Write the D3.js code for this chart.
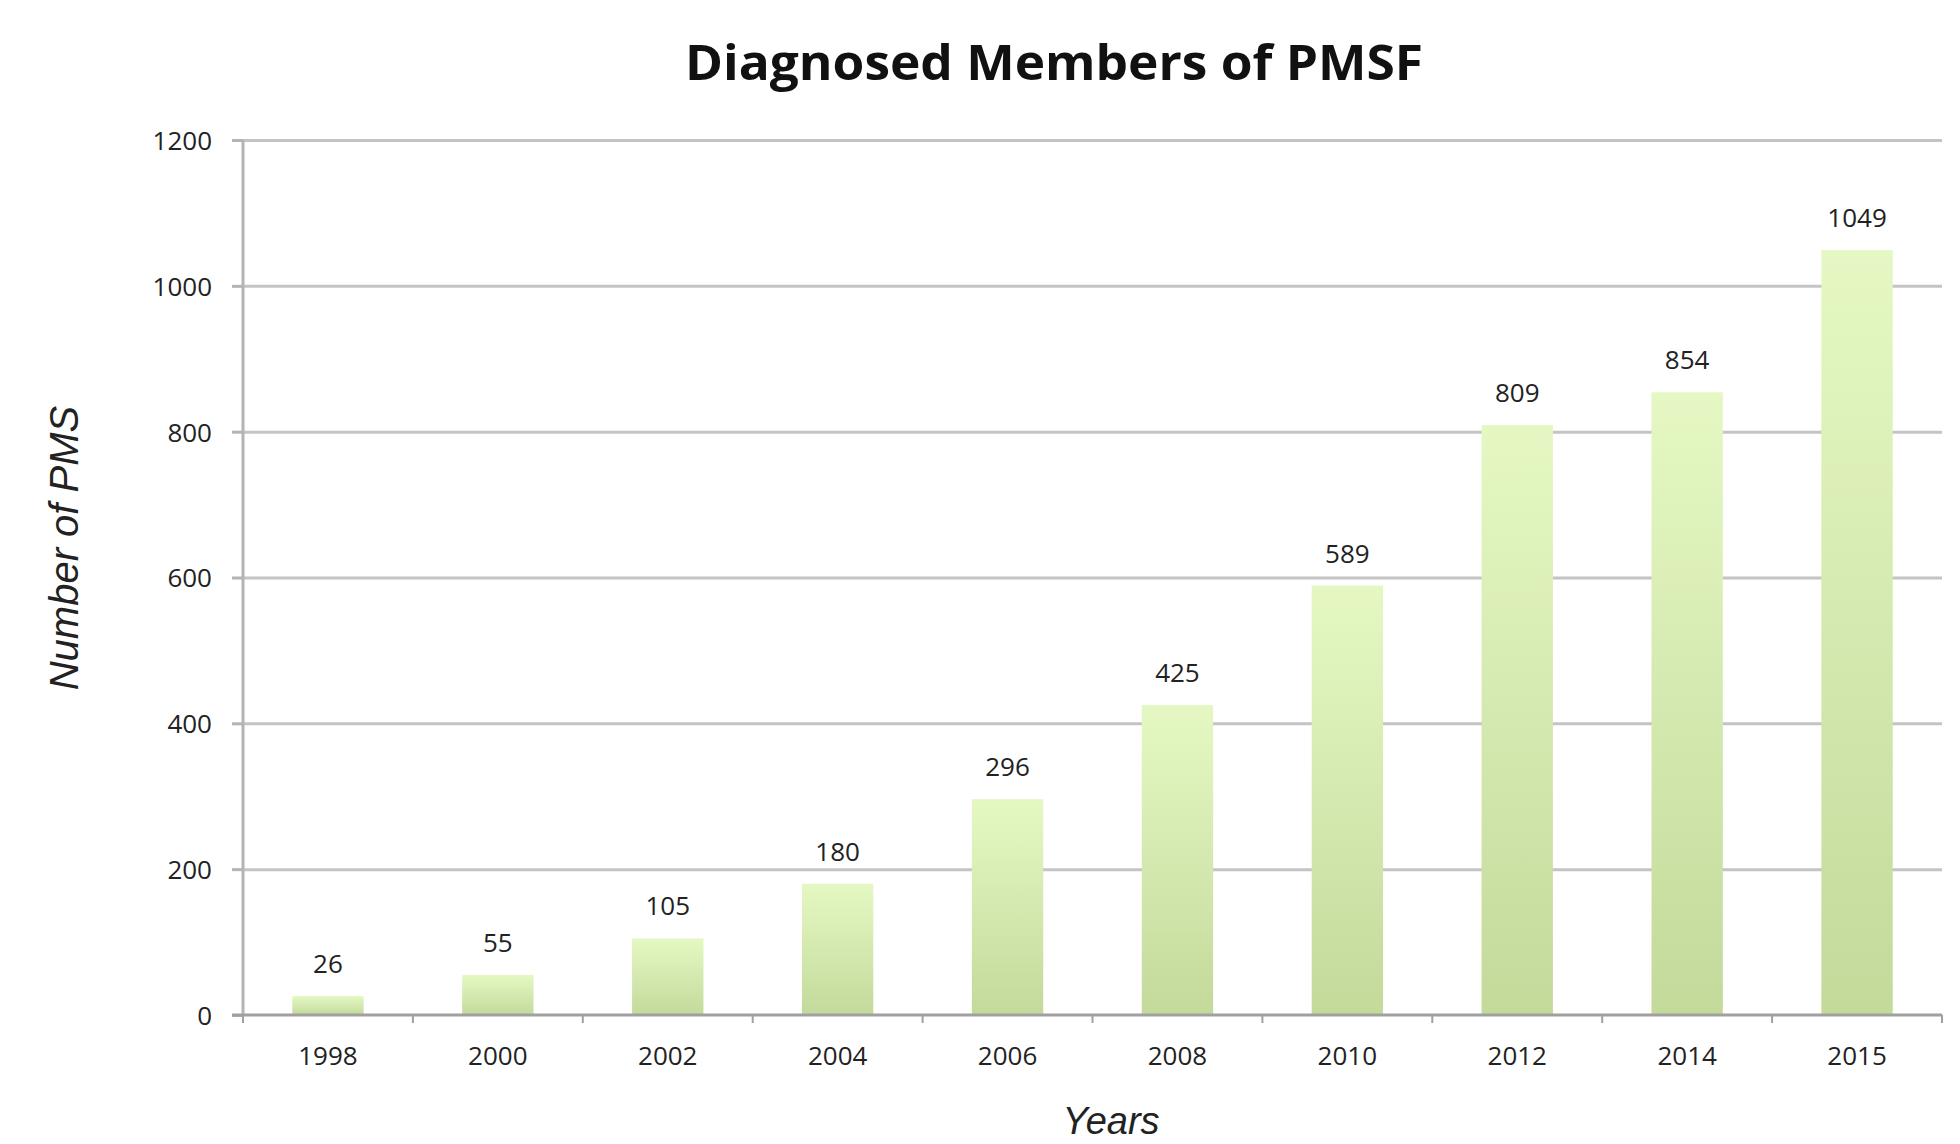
<!DOCTYPE html>
<html>
<head>
<meta charset="utf-8">
<script src="https://cdn.jsdelivr.net/npm/d3@7"></script>
<style>
  body { margin: 0; background: #fff; }
  .tick text { font-family: "Open Sans", sans-serif; fill: #222; }
  .axisTitle { font-family: "Liberation Sans", Arial, sans-serif; font-style: italic; fill: #222; }
</style>
</head>
<body>
<div id="chart"></div>
<script>
// data
var years = ["1998", "2000", "2002", "2004", "2006", "2008", "2010", "2012", "2014", "2015"];
var members = [26, 55, 105, 180, 296, 425, 589, 809, 854, 1049];
var yTicks = [0, 200, 400, 600, 800, 1000, 1200];

var viewBox = {width: 1960, height: 1144},
    margin = {top: 140, right: 18, bottom: 129, left: 243},
    width = viewBox.width - margin.left - margin.right,
    height = viewBox.height - margin.top - margin.bottom;

var root = d3.select("#chart")
  .append("svg")
  .attr("width", viewBox.width)
  .attr("height", viewBox.height);

var defs = root.append("defs");
var grad = defs.append("linearGradient")
  .attr("id", "barFill")
  .attr("x1", 0).attr("y1", 0)
  .attr("x2", 0).attr("y2", 1);
grad.append("stop").attr("offset", "0%").attr("stop-color", "#e5f8c3");
grad.append("stop").attr("offset", "100%").attr("stop-color", "#c3da9b");

var svg = root.append("g")
  .attr("transform", "translate(" + margin.left + "," + margin.top + ")");

var x = d3.scaleBand()
  .domain(years)
  .range([0, width])
  .paddingInner(0.58)
  .paddingOuter(0.29);

var y = d3.scaleLinear()
  .domain([0, 1200])
  .range([height, 0]);

// gridlines
svg.append("g")
  .attr("class", "grid")
  .call(d3.axisLeft(y).tickValues(yTicks.slice(1)).tickSize(-width).tickFormat(""))
  .call(function(g){
    g.select(".domain").remove();
    g.selectAll("line").attr("stroke", "#c4c4c4").attr("stroke-width", 3);
  });

// bars
svg.selectAll(".bar")
  .data(members)
  .enter().append("rect")
  .attr("class", "bar")
  .attr("x", function(d, i){ return x(years[i]); })
  .attr("width", x.bandwidth())
  .attr("y", function(d){ return y(d); })
  .attr("height", function(d){ return height - y(d); })
  .attr("fill", "url(#barFill)");

// value labels
svg.selectAll(".valueLabel")
  .data(members)
  .enter().append("text")
  .attr("class", "valueLabel")
  .attr("x", function(d, i){ return x(years[i]) + x.bandwidth()/2; })
  .attr("y", function(d){ return y(d) - 23; })
  .attr("text-anchor", "middle")
  .style("font-family", "'Open Sans', sans-serif")
  .style("font-size", "26px")
  .style("fill", "#222")
  .text(function(d){ return d; });

// y axis
svg.append("g")
  .attr("class", "yaxis")
  .call(d3.axisLeft(y).tickValues(yTicks).tickSize(11).tickPadding(20).tickFormat(d3.format("d")))
  .call(function(g){
    g.select(".domain").attr("stroke", "#b4b4b4").attr("stroke-width", 3)
      .attr("d", "M0," + height + "V0");
    g.selectAll(".tick line").attr("stroke", "#b4b4b4").attr("stroke-width", 3);
    g.selectAll(".tick text").style("font-size", "26px").attr("dy", "0.36em");
  });

// x axis
var xAxis = svg.append("g")
  .attr("class", "xaxis")
  .attr("transform", "translate(0," + height + ")")
  .call(d3.axisBottom(x).tickSize(0).tickPadding(32))
  .call(function(g){
    g.select(".domain").attr("stroke", "#a0a0a0").attr("stroke-width", 3)
      .attr("d", "M-11,0H" + width);
    g.selectAll(".tick text").style("font-size", "26px");
  });

// tick marks between categories
var bounds = d3.range(years.length + 1).map(function(i){ return i * x.step(); });
xAxis.selectAll(".boundTick")
  .data(bounds)
  .enter().append("line")
  .attr("class", "boundTick")
  .attr("x1", function(d){ return d; })
  .attr("x2", function(d){ return d; })
  .attr("y1", 0)
  .attr("y2", 8)
  .attr("stroke", "#a0a0a0")
  .attr("stroke-width", 2);

// title
root.append("text")
  .attr("x", 1054)
  .attr("y", 80)
  .attr("text-anchor", "middle")
  .attr("textLength", 738)
  .attr("lengthAdjust", "spacingAndGlyphs")
  .style("font-family", "'Open Sans', sans-serif")
  .style("font-weight", "bold")
  .style("font-size", "48px")
  .style("fill", "#111")
  .text("Diagnosed Members of PMSF");

// axis titles
root.append("text")
  .attr("class", "axisTitle")
  .attr("transform", "translate(78," + 548 + ") rotate(-90)")
  .attr("text-anchor", "middle")
  .style("font-size", "40px")
  .text("Number of PMS");

root.append("text")
  .attr("class", "axisTitle")
  .attr("x", 1111)
  .attr("y", 1134)
  .attr("text-anchor", "middle")
  .style("font-size", "38px")
  .text("Years");
</script>
</body>
</html>
